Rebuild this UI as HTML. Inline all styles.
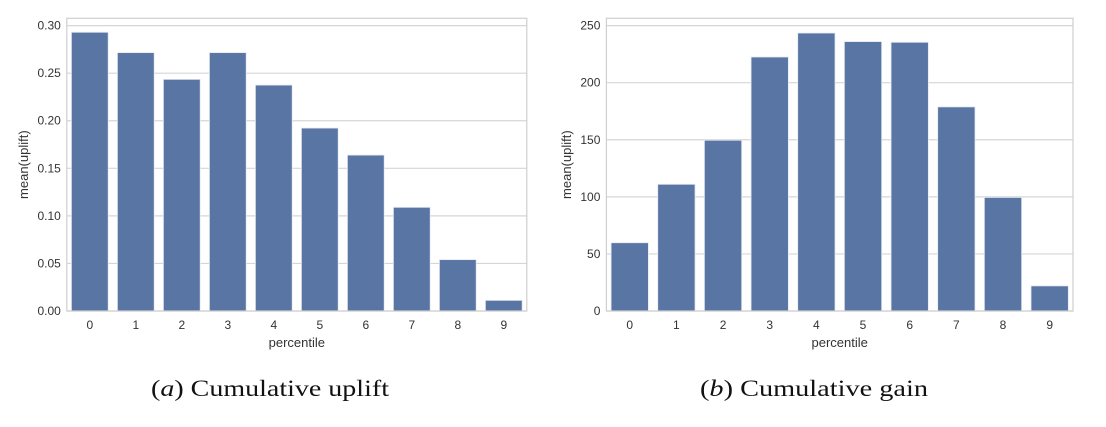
<!DOCTYPE html>
<html><head><meta charset="utf-8"><style>
body{margin:0;background:#fff;width:1106px;height:422px;overflow:hidden}
svg text{font-family:"Liberation Sans",sans-serif;fill:#333}
</style></head><body>
<svg id="s" width="1106" height="422">
<text x="151" y="396" textLength="238" lengthAdjust="spacingAndGlyphs" style="font-family:'Liberation Serif',serif;font-size:23px;fill:#111">(<tspan font-style="italic">a</tspan>) Cumulative uplift</text>
<text x="700" y="396" textLength="228" lengthAdjust="spacingAndGlyphs" style="font-family:'Liberation Serif',serif;font-size:23px;fill:#111">(<tspan font-style="italic">b</tspan>) Cumulative gain</text>
</svg>
<script>
const categories=["0","1","2","3","4","5","6","7","8","9"];
const upliftValues=[0.293,0.2716,0.2435,0.2716,0.2375,0.1923,0.1639,0.109,0.054,0.0112];
const gainValues=[59.8,111,149.6,222.5,243.5,236,235.4,178.8,99.5,22];
const upliftTicks=[0,0.05,0.10,0.15,0.20,0.25,0.30];
const upliftTickLabels=["0.00","0.05","0.10","0.15","0.20","0.25","0.30"];
const gainTicks=[0,50,100,150,200,250];
const gainTickLabels=["0","50","100","150","200","250"];
const NS="http://www.w3.org/2000/svg",svg=document.getElementById('s');
function mk(t,a,p){const e=document.createElementNS(NS,t);for(const k in a)e.setAttribute(k,a[k]);(p||svg).appendChild(e);return e;}
function chart(name,x0,x1,top,bottom,ymax,ticks,labels,vals,ylx){
  const g=mk('g',{});
  
  
  const y=v=>bottom-(v/ymax)*(bottom-top-7.3);
  ticks.forEach((t,i)=>{
    const l=mk('line',{x1:x0,x2:x1,y1:y(t),y2:y(t),stroke:'#d6d6d6','stroke-width':1.2},g);
    
    
    const tx=mk('text',{x:x0-6,y:y(t)+4,'text-anchor':'end','font-size':12},g);
    tx.textContent=labels[i];
    
    
  });
  const slot=(x1-x0)/categories.length;
  categories.forEach((c,i)=>{
    const bx=x0+slot*i+slot*0.1;
    const r=mk('rect',{x:bx,y:y(vals[i]),width:slot*0.8,height:bottom-y(vals[i]),fill:'#5975a4',stroke:'#e6eaf2','stroke-width':0.8},g);
    
    
    const tx=mk('text',{x:x0+slot*(i+0.5),y:bottom+18,'text-anchor':'middle','font-size':12},g);
    tx.textContent=c;
    
    
  });
  const fr=mk('rect',{x:x0,y:top,width:x1-x0,height:bottom-top,fill:'none',stroke:'#cfcfcf','stroke-width':1.2},g);
  
  
  const xl=mk('text',{x:(x0+x1)/2,y:bottom+36,'text-anchor':'middle','font-size':13},g);
  xl.textContent='percentile';
  
  
  const yl=mk('text',{x:0,y:0,'text-anchor':'middle','font-size':13,transform:`translate(${ylx},${(top+bottom)/2}) rotate(-90)`},g);
  yl.textContent='mean(uplift)';
  
  
}
chart('uplift-chart',66.8,526.8,18.3,311,0.30,upliftTicks,upliftTickLabels,upliftValues,28);
chart('gain-chart',606.4,1073,18.3,311,250,gainTicks,gainTickLabels,gainValues,571);
</script>
</body></html>
